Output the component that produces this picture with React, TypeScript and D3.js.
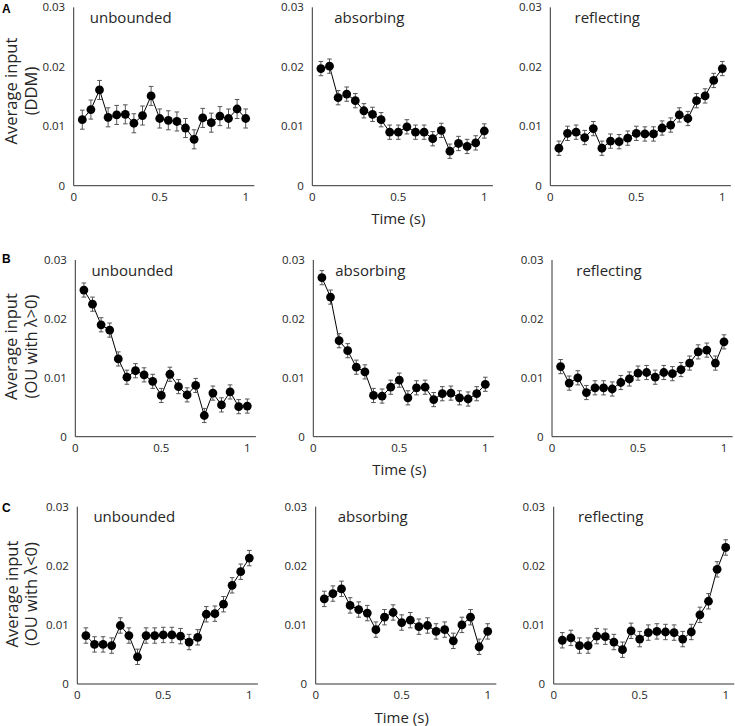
import React from "react";
import * as d3 from "d3";

const times = [0.05, 0.1, 0.15, 0.2, 0.25, 0.3, 0.35, 0.4, 0.45, 0.5, 0.55, 0.6, 0.65, 0.7, 0.75, 0.8, 0.85, 0.9, 0.95, 1.0];

const ddmUnbounded = [0.0111, 0.0128, 0.0161, 0.0115, 0.0119, 0.012, 0.0105, 0.0118, 0.0151, 0.0113, 0.011, 0.0108, 0.0097, 0.0078, 0.0114, 0.0106, 0.0117, 0.0113, 0.0129, 0.0113];
const ddmAbsorbing = [0.0197, 0.0201, 0.0148, 0.0154, 0.0143, 0.0126, 0.012, 0.0111, 0.009, 0.009, 0.0099, 0.009, 0.009, 0.0079, 0.0093, 0.0058, 0.0071, 0.0066, 0.0072, 0.0092];
const ddmReflecting = [0.0063, 0.0088, 0.009, 0.0081, 0.0096, 0.0063, 0.0075, 0.0074, 0.008, 0.0088, 0.0087, 0.0087, 0.0097, 0.0102, 0.0119, 0.0113, 0.0143, 0.0151, 0.0177, 0.0197];

const ouPosUnbounded = [0.0249, 0.0225, 0.019, 0.0181, 0.0132, 0.0101, 0.0112, 0.0105, 0.0094, 0.007, 0.0106, 0.0085, 0.0071, 0.0087, 0.0036, 0.0074, 0.0054, 0.0076, 0.0051, 0.0052];
const ouPosAbsorbing = [0.027, 0.0237, 0.0163, 0.0146, 0.0118, 0.011, 0.007, 0.0069, 0.0084, 0.0096, 0.0066, 0.0083, 0.0084, 0.0063, 0.0073, 0.0074, 0.0066, 0.0064, 0.0073, 0.0089];
const ouPosReflecting = [0.0119, 0.0091, 0.01, 0.0075, 0.0083, 0.0083, 0.0081, 0.0092, 0.0098, 0.0108, 0.0109, 0.0101, 0.0109, 0.0107, 0.0114, 0.0125, 0.0144, 0.0147, 0.0125, 0.0161];

const ouNegUnbounded = [0.0082, 0.0067, 0.0067, 0.0065, 0.0099, 0.0082, 0.0046, 0.0082, 0.0082, 0.0083, 0.0083, 0.0081, 0.0071, 0.0079, 0.0118, 0.0119, 0.0135, 0.0167, 0.019, 0.0213];
const ouNegAbsorbing = [0.0144, 0.0153, 0.0161, 0.0133, 0.0126, 0.012, 0.0092, 0.0113, 0.0121, 0.0104, 0.0108, 0.0097, 0.0099, 0.0089, 0.0092, 0.0073, 0.01, 0.0113, 0.0063, 0.0089];
const ouNegReflecting = [0.0074, 0.0078, 0.0065, 0.0065, 0.0081, 0.008, 0.0071, 0.0058, 0.009, 0.0076, 0.0087, 0.0089, 0.0088, 0.0087, 0.0076, 0.0088, 0.0117, 0.014, 0.0194, 0.0231];

const errorsDDM = [0.0016, 0.0012, 0.0012];
const errorsOUPos = [0.0012, 0.0012, 0.0012];
const errorsOUNeg = [0.0013, 0.0013, 0.0013];

const panelTitles = ["unbounded", "absorbing", "reflecting"];
const rowLetters = ["A", "B", "C"];
const rowLabelLine1 = ["Average input", "Average input", "Average input"];
const rowLabelLine2 = ["(DDM)", "(OU with \u03bb>0)", "(OU with \u03bb<0)"];
const yTicks = [0, 0.01, 0.02, 0.03];
const yTickLabels = ["0", "0.01", "0.02", "0.03"];
const xTicks = [0, 0.5, 1];
const xTickLabels = ["0", "0.5", "1"];
const xLabel = "Time (s)";

const rowsData = [
  { series: [ddmUnbounded, ddmAbsorbing, ddmReflecting], errors: errorsDDM },
  { series: [ouPosUnbounded, ouPosAbsorbing, ouPosReflecting], errors: errorsOUPos },
  { series: [ouNegUnbounded, ouNegAbsorbing, ouNegReflecting], errors: errorsOUNeg },
];

// layout (pixels)
const rowLayout = [
  { top: 7.3, bottom: 185.7, lefts: [73.7, 312.3, 550.3], labelY: 91, labelX: [17, 36.5], letterY: 13 },
  { top: 260, bottom: 436.7, lefts: [75.3, 313.3, 552], labelY: 346.5, labelX: [17, 36.5], letterY: 263 },
  { top: 506.7, bottom: 684, lefts: [77.3, 315.7, 553.7], labelY: 594, labelX: [17.5, 37], letterY: 512 },
];
const unitWidth = 172;
const FONT = "'Open Sans', 'Noto Sans', sans-serif";
const TEXT = "#262626";

function Panel({ left, top, bottom, values, err, title, showXLabel }) {
  const x = d3.scaleLinear().domain([0, 1.05]).range([left, left + unitWidth * 1.05]);
  const y = d3.scaleLinear().domain([0, 0.03]).range([bottom, top]);
  const line = d3
    .line<number>()
    .x((_, i) => x(times[i]))
    .y((d) => y(d));
  return (
    <g>
      <line x1={x(0)} x2={x(1.05)} y1={y(0)} y2={y(0)} stroke="#333" strokeWidth={1} />
      <line x1={x(0)} x2={x(0)} y1={y(0)} y2={y(0.03)} stroke="#333" strokeWidth={1} />
      {yTicks.map((t, i) => (
        <text key={"yt" + i} x={x(0) - 8.5} y={y(t)} dy="0.35em" textAnchor="end" fontSize={11.5} fill={TEXT} fontFamily={FONT}>
          {yTickLabels[i]}
        </text>
      ))}
      {xTicks.map((t, i) => (
        <text key={"xt" + i} x={x(t)} y={y(0) + 15} textAnchor="middle" fontSize={11.5} fill={TEXT} fontFamily={FONT}>
          {xTickLabels[i]}
        </text>
      ))}
      <text x={x(0) + 57} y={top + 15.5} textAnchor="middle" fontSize={15} fill={TEXT} fontFamily={FONT}>
        {title}
      </text>
      {showXLabel && (
        <text x={x(0.5)} y={y(0) + 38.5} textAnchor="middle" fontSize={15} fill={TEXT} fontFamily={FONT}>
          {xLabel}
        </text>
      )}
      <path d={line(values) || ""} fill="none" stroke="#000" strokeWidth={1} />
      {values.map((v, i) => (
        <g key={"e" + i} stroke="#555" strokeWidth={1}>
          <line x1={x(times[i])} x2={x(times[i])} y1={y(v - err)} y2={y(v + err)} />
          <line x1={x(times[i]) - 2.3} x2={x(times[i]) + 2.3} y1={y(v - err)} y2={y(v - err)} />
          <line x1={x(times[i]) - 2.3} x2={x(times[i]) + 2.3} y1={y(v + err)} y2={y(v + err)} />
        </g>
      ))}
      {values.map((v, i) => (
        <circle key={"c" + i} cx={x(times[i])} cy={y(v)} r={4.4} fill="#000" />
      ))}
    </g>
  );
}

export default function App() {
  return (
    <svg width={735} height={726} style={{ position: "absolute", left: 0, top: 0, background: "#fff" }}>
      <rect x={0} y={0} width={735} height={726} fill="#fff" />
      {rowLayout.map((r, ri) => (
        <g key={"row" + ri}>
          <text x={2} y={r.letterY} fontSize={12} fontWeight="bold" fontFamily="'Liberation Sans', Arial, sans-serif" fill="#000">
            {rowLetters[ri]}
          </text>
          <text transform={`translate(${r.labelX[0]},${r.labelY}) rotate(-90)`} textAnchor="middle" fontSize={16.5} fill={TEXT} fontFamily={FONT}>
            {rowLabelLine1[ri]}
          </text>
          <text transform={`translate(${r.labelX[1]},${r.labelY}) rotate(-90)`} textAnchor="middle" fontSize={16.5} fill={TEXT} fontFamily={FONT}>
            {rowLabelLine2[ri]}
          </text>
          {r.lefts.map((left, ci) => (
            <Panel
              key={"p" + ci}
              left={left}
              top={r.top}
              bottom={r.bottom}
              values={rowsData[ri].series[ci]}
              err={rowsData[ri].errors[ci]}
              title={panelTitles[ci]}
              showXLabel={ci === 1}
            />
          ))}
        </g>
      ))}
    </svg>
  );
}
